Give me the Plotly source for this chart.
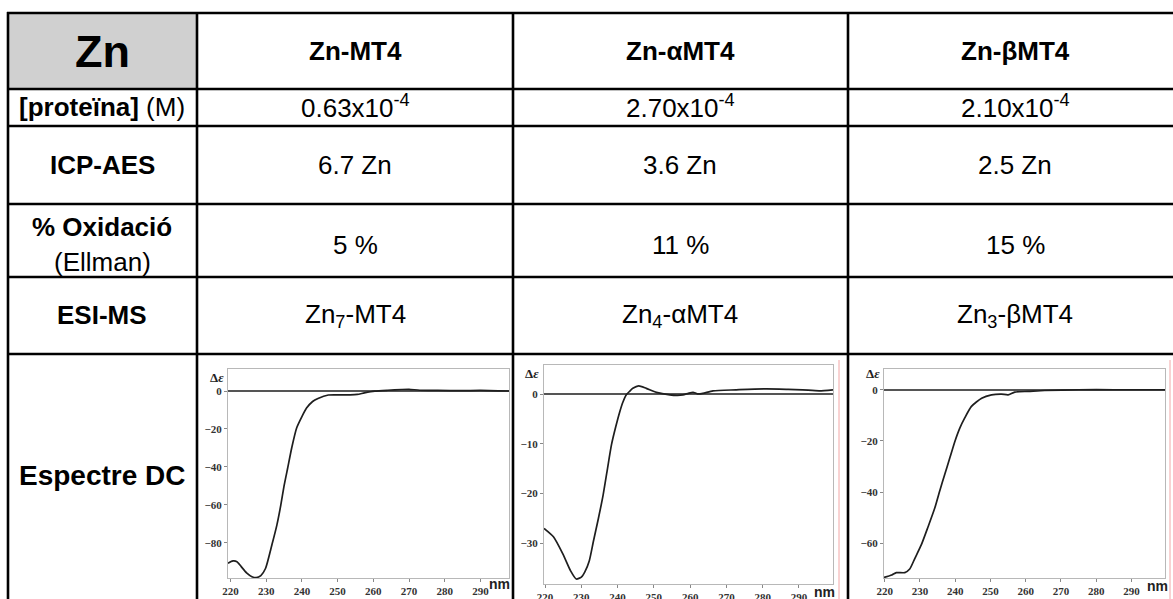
import plotly.graph_objects as go

W, H = 1173, 599

# ---------------- data ----------------
col_headers = ["Zn-MT4", "Zn-αMT4", "Zn-βMT4"]
row_labels = ["<b>[proteïna]</b> (M)", "<b>ICP-AES</b>", "<b>% Oxidació</b>", "(Ellman)", "<b>ESI-MS</b>", "<b>Espectre DC</b>"]
conc = ["0.63x10<sup>-4</sup>", "2.70x10<sup>-4</sup>", "2.10x10<sup>-4</sup>"]
icp = ["6.7 Zn", "3.6 Zn", "2.5 Zn"]
oxid = ["5 %", "11 %", "15 %"]
esims = ["Zn<sub>7</sub>-MT4", "Zn<sub>4</sub>-αMT4", "Zn<sub>3</sub>-βMT4"]

wl1 = [219.3, 220.7, 221.8, 223.0, 224.5, 226.0, 227.2, 228.5, 229.8, 231.6, 233.0, 234.1, 235.0, 236.0,
       237.2, 238.5, 240.0, 241.3, 243.0, 244.5, 247.4, 250.0, 253.5, 255.5, 257.5, 260.4, 264.0, 268.0,
       270.0, 273.0, 278.0, 285.0, 290.0, 295.0, 298.0]
cd1 = [-90.7, -89.5, -89.9, -92.5, -95.8, -97.8, -98.3, -97.2, -93.5, -81.0, -70.5, -60.0, -50.0, -40.7,
       -29.5, -19.6, -13.5, -9.0, -5.5, -3.9, -2.1, -2.0, -2.0, -1.8, -1.0, -0.1, 0.4, 0.8,
       0.9, 0.4, 0.3, 0.2, 0.3, 0.1, 0.0]

wl2 = [219.7, 222.3, 225.0, 227.0, 228.6, 230.0, 231.0, 232.2, 233.3, 234.7, 236.0, 237.2, 238.3, 239.5,
       240.6, 241.5, 242.4, 243.3, 244.2, 245.8, 247.9, 250.7, 254.4, 256.5, 258.0, 259.5, 260.8, 262.0,
       263.5, 266.3, 272.7, 281.0, 287.0, 291.0, 295.6, 299.4]
cd2 = [-27.0, -28.7, -32.3, -35.5, -37.2, -36.8, -35.7, -33.5, -29.7, -25.0, -20.3, -15.0, -10.2, -6.5,
       -3.5, -1.5, -0.1, 0.6, 1.2, 1.7, 1.2, 0.4, -0.1, -0.2, -0.1, 0.2, 0.4, 0.1,
       0.2, 0.7, 0.9, 1.1, 1.0, 0.9, 0.7, 0.9]

wl3 = [219.8, 222.0, 223.3, 225.7, 227.1, 228.5, 230.4, 232.3, 234.2, 235.6, 237.0, 238.5, 239.9, 241.3,
       242.7, 244.6, 247.5, 250.3, 253.1, 255.0, 256.9, 260.7, 265.4, 274.9, 285.0, 299.5]
cd3 = [-73.3, -72.3, -71.4, -71.4, -70.0, -66.0, -60.5, -53.5, -46.2, -39.5, -33.2, -26.5, -20.2, -15.0,
       -11.0, -6.5, -3.3, -2.0, -1.7, -2.0, -0.9, -0.65, -0.3, 0.0, 0.0, 0.0]

spectra = [(wl1, cd1), (wl2, cd2), (wl3, cd3)]
yticks = [[0, -20, -40, -60, -80], [0, -10, -20, -30], [0, -20, -40, -60]]
xticks = [220, 230, 240, 250, 260, 270, 280, 290]

# ---------------- layout geometry (pixels) ----------------
col_x = [8, 197, 513, 848, 1190]
row_y = [13, 89, 126, 204, 277, 354, 620]
col_c = [102, 355, 680, 1015]

frames = [(228, 509, 369, 578), (544, 833, 365, 584), (884, 1165, 369, 578)]
xr = [[219.3, 298.0], [219.7, 299.4], [219.8, 299.5]]
yr = [[-98.5, 11.6], [-38.2, 5.9], [-73.5, 8.1]]
de_pos = [(217, 377), (532, 373), (873, 373)]
nm_pos = [(499, 584), (824, 592), (1157, 586)]


def px(x):
    return x / W


def py(y):
    return 1 - y / H


fig = go.Figure()
shapes = []
annotations = []

# header gray cell
shapes.append(dict(type="rect", xref="paper", yref="paper", x0=px(col_x[0]), x1=px(col_x[1]),
                   y0=py(row_y[0]), y1=py(row_y[1]), fillcolor="#d0d0d0", line=dict(width=0), layer="below"))

# table grid
for y in row_y[:-1]:
    shapes.append(dict(type="line", xref="paper", yref="paper", x0=px(col_x[0] - 1), x1=px(col_x[-1]),
                       y0=py(y), y1=py(y), line=dict(color="black", width=2.6)))
for x in col_x[:-1]:
    shapes.append(dict(type="line", xref="paper", yref="paper", x0=px(x), x1=px(x),
                       y0=py(row_y[0] - 1), y1=py(row_y[-1]), line=dict(color="black", width=2.6)))

# thin pink lines at right of spectra 2 and 3
for x in [839, 1170]:
    shapes.append(dict(type="line", xref="paper", yref="paper", x0=px(x), x1=px(x),
                       y0=py(360), y1=py(620), line=dict(color="#f2a6a6", width=1)))

BODY = 26
body_font = dict(family="Liberation Sans, Arial", size=BODY, color="black")


def add_text(text, x, y, size=BODY, font=None):
    f = dict(body_font) if font is None else dict(font)
    f["size"] = size
    annotations.append(dict(text=text, x=px(x), y=py(y), xref="paper", yref="paper",
                            xanchor="center", yanchor="middle", showarrow=False, font=f))


row_c = [51, 107, 165, 245, 315, 475]
add_text("<b>Zn</b>", col_c[0], row_c[0] + 1, size=45)
for i, h in enumerate(col_headers):
    add_text("<b>" + h + "</b>", col_c[i + 1], row_c[0])
add_text(row_labels[0], col_c[0], row_c[1])
add_text(row_labels[1], col_c[0], row_c[2])
add_text(row_labels[2], col_c[0], 227)
add_text(row_labels[3], col_c[0], 262)
add_text(row_labels[4], col_c[0], row_c[4])
add_text(row_labels[5], col_c[0], row_c[5], size=28)
for i in range(3):
    add_text(conc[i], col_c[i + 1], row_c[1])
    add_text(icp[i], col_c[i + 1], row_c[2])
    add_text(oxid[i], col_c[i + 1], row_c[3])
    add_text(esims[i], col_c[i + 1], row_c[4])

# spectra
layout_axes = {}
for k, ((wl, cd), (l, r, t, b)) in enumerate(zip(spectra, frames)):
    n = k + 1
    xa = "x" if n == 1 else f"x{n}"
    ya = "y" if n == 1 else f"y{n}"
    fig.add_trace(go.Scatter(x=wl, y=cd, mode="lines", xaxis=xa, yaxis=ya,
                             line=dict(color="#1e1e1e", width=1.7, shape="spline", smoothing=0.6),
                             showlegend=False, hoverinfo="skip"))
    axis_common = dict(showline=True, mirror=True, linecolor="#b8b8b8", linewidth=1,
                       showgrid=False, ticks="outside", ticklen=3, tickcolor="#888888",
                       automargin=False,
                       tickfont=dict(family="Liberation Serif, Times New Roman", size=11,
                                     color="#333333", weight="bold"))
    layout_axes["xaxis" if n == 1 else f"xaxis{n}"] = dict(
        domain=[px(l), px(r)], range=xr[k], tickvals=xticks, zeroline=False,
        anchor=ya, **axis_common)
    layout_axes["yaxis" if n == 1 else f"yaxis{n}"] = dict(
        domain=[py(b), py(t)], range=yr[k], tickvals=yticks[k], zeroline=True,
        zerolinecolor="#555555", zerolinewidth=1.6, anchor=xa, **axis_common)
    dx, dy = de_pos[k]
    annotations.append(dict(text="<b>Δ<i>ε</i></b>", x=px(dx), y=py(dy), xref="paper", yref="paper",
                            xanchor="center", yanchor="middle", showarrow=False,
                            font=dict(family="Liberation Serif, Times New Roman", size=13, color="#222222")))
    nx, ny = nm_pos[k]
    annotations.append(dict(text="<b>nm</b>", x=px(nx), y=py(ny), xref="paper", yref="paper",
                            xanchor="center", yanchor="middle", showarrow=False,
                            font=dict(family="Liberation Sans, Arial", size=14, color="#222222")))

fig.update_layout(width=W, height=H, margin=dict(l=0, r=0, t=0, b=0, autoexpand=False),
                  paper_bgcolor="white", plot_bgcolor="white", template="none",
                  shapes=shapes, annotations=annotations, **layout_axes)

fig.write_html("out.html", config={"displayModeBar": False},
               post_script="document.documentElement.style.margin='0';document.body.style.margin='0';"
                           "document.body.style.overflow='hidden';document.documentElement.style.overflow='hidden';")
